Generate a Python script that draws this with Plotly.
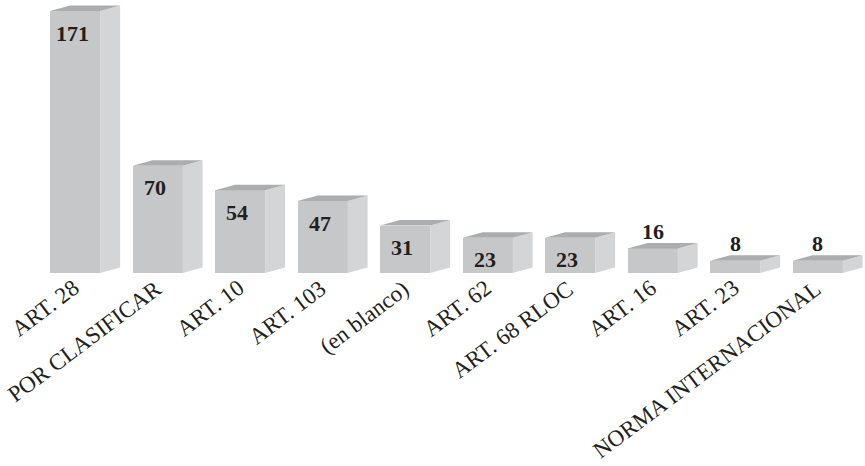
import plotly.graph_objects as go

categories = ["ART. 28", "POR CLASIFICAR", "ART. 10", "ART. 103", "(en blanco)",
              "ART. 62", "ART. 68 RLOC", "ART. 16", "ART. 23", "NORMA INTERNACIONAL"]
values = [171, 70, 54, 47, 31, 23, 23, 16, 8, 8]

FONT = "Liberation Serif, Times New Roman, serif"
FRONT = "#c6c7c9"
SIDE = "#d4d5d7"
TOP = "#acadaf"
TXT = "#231f20"

W, H = 865, 466
ml, mr, mt, mb = 38, 2, 4, 193
xr = [-0.45, 9.55]
yr = [0, 175.6]
px_x = (W - ml - mr) / (xr[1] - xr[0])
px_y = (H - mt - mb) / (yr[1] - yr[0])

bw = 50 / px_x          # front face width in data units
ddx = 20 / px_x         # depth offset x
ddy = 5.5 / px_y        # depth offset y

xs = list(range(len(categories)))

side_x, side_y, top_x, top_y = [], [], [], []
for x, v in zip(xs, values):
    r = x + bw / 2
    l = x - bw / 2
    side_x += [r, r + ddx, r + ddx, r, r, None]
    side_y += [0, ddy, v + ddy, v, 0, None]
    top_x += [l, l + ddx, r + ddx, r, l, None]
    top_y += [v, v + ddy, v + ddy, v, v, None]

fig = go.Figure()
fig.add_trace(go.Bar(x=xs, y=values, width=bw, marker=dict(color=FRONT, line=dict(width=0)),
                     hoverinfo="skip"))
fig.add_trace(go.Scatter(x=side_x, y=side_y, fill="toself", fillcolor=SIDE, mode="none",
                         hoverinfo="skip"))
fig.add_trace(go.Scatter(x=top_x, y=top_y, fill="toself", fillcolor=TOP, mode="none",
                         hoverinfo="skip"))

annotations = []
for x, v in zip(xs, values):
    inside = v >= 20
    annotations.append(dict(
        x=x, y=v, xref="x", yref="y", text=f"<b>{v}</b>", showarrow=False,
        xshift=-3 if inside else 0,
        yshift=-22 if inside else 17,
        font=dict(family=FONT, size=22, color=TXT),
    ))
for x, c in zip(xs, categories):
    annotations.append(dict(
        x=x, y=0, xref="x", yref="y", text=c, showarrow=False,
        textangle=-37, xanchor="right", yanchor="top",
        xshift=11, yshift=0,
        font=dict(family=FONT, size=23, color=TXT),
    ))

fig.update_layout(
    width=W, height=H,
    margin=dict(l=ml, r=mr, t=mt, b=mb, pad=0),
    paper_bgcolor="white", plot_bgcolor="white",
    showlegend=False,
    bargap=0,
    annotations=annotations,
    xaxis=dict(range=xr, showgrid=False, zeroline=False, showline=False,
               showticklabels=False, ticks=""),
    yaxis=dict(range=yr, showgrid=False, zeroline=False, showline=False,
               showticklabels=False, ticks=""),
)

fig.write_html("out.html")
